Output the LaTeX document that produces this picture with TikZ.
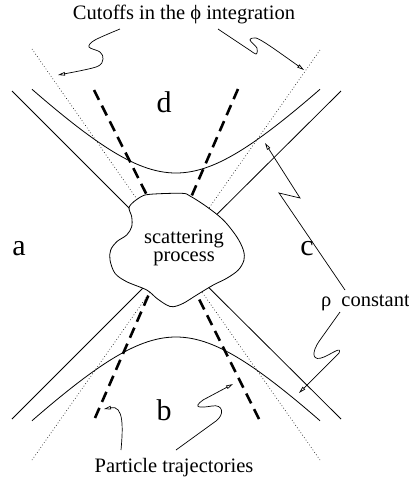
\documentclass[tikz,border=0pt]{standalone}
\usepackage{fontspec}
\setmainfont{Liberation Serif}
\usetikzlibrary{arrows.meta}
\begin{document}
\begin{tikzpicture}[x=1pt,y=-1pt,
  solidline/.style={line width=0.8pt},
  dotline/.style={line width=0.6pt, dash pattern=on 0.7pt off 2.3pt},
  trajline/.style={line width=2.6pt, dash pattern=on 11pt off 6.5pt},
  arr/.style={line width=0.7pt, -{Triangle[open,length=7pt,width=3.6pt]}},
  lbl/.style={font=\fontsize{30}{36}\selectfont, inner sep=0pt},
  txt/.style={font=\fontsize{20.5}{24}\selectfont, inner sep=0pt}]
\useasboundingbox (0,0) rectangle (409,480);
% key points
\coordinate (O) at (176,255);
\coordinate (oTL) at (12,91);   \coordinate (oTR) at (341,91);
\coordinate (oBL) at (12,419);  \coordinate (oBR) at (341,419);
\coordinate (dTL) at (32,49);   \coordinate (dTR) at (320,50);
\coordinate (dBL) at (32,460);  \coordinate (dBR) at (320,460);
\coordinate (pTL) at (94,90);   \coordinate (pBR) at (259,419);
\coordinate (pTR) at (238,89);  \coordinate (pBL) at (95,418);
\coordinate (m1) at (177,255);  \coordinate (m2) at (166,255);
% asymptote lines
\draw[solidline] (oTL) -- (O) -- (oBR);
\draw[solidline] (oTR) -- (O) -- (oBL);
% cutoff lines
\draw[dotline] (dTL) -- (O);
\draw[dotline] (dBR) -- (O);
\draw[dotline] (dTR) -- (O);
\draw[dotline] (dBL) -- (O);
% hyperbolas (rho constant)
\draw[solidline] plot[domain=-144:144, samples=73] ({176+\x},{255-10*sqrt(67.24+(\x/10)^2)});
\draw[solidline] plot[domain=-144:144, samples=73] ({176+\x},{255+10*sqrt(67.24+(\x/10)^2)});
% particle trajectories
\draw[trajline] (pTL) -- (m1);
\draw[trajline] (pBR) -- (m1);
\draw[trajline] (pTR) -- (m2);
\draw[trajline] (pBL) -- (m2);
% scattering blob
\draw[solidline, fill=white] plot[smooth cycle, tension=0.55] coordinates {
  (129.3,206.7) (140,197.3) (150,194.3) (181.7,193.3) (190,196)
  (206.7,206.7) (223.3,220) (236.7,236.7) (243.3,250) (244,260)
  (238.3,270) (226.7,278.3) (213.3,285) (196.7,295) (183.3,303.3)
  (173.3,306.7) (166.7,305) (156.7,298.3) (146.7,290) (126.7,281.7)
  (115,273.3) (110,260) (110.7,250) (116.7,241.7) (126.7,235)
  (131.7,226.7) (131.7,216.7)};
\node[inner sep=0pt, align=center, font=\fontsize{20.5}{17.5}\selectfont, anchor=base] (scat) at (184,261) {scattering\\process};
% region labels
\node[lbl, anchor=base] (la) at (19,255) {a};
\node[lbl, anchor=base] (lc) at (307,255) {c};
\node[lbl, anchor=base] (ld) at (164,112) {d};
\node[lbl, anchor=base] (lb) at (164,420) {b};
% texts
\node[txt, anchor=base] (title) at (184,19) {Cutoffs in the ϕ integration};
\node[txt, anchor=base] (ptraj) at (174,472) {Particle trajectories};
\node[txt, anchor=base west] (rho) at (321,306.5) {ρ\hspace{10pt}constant};
% annotation arrows
\coordinate (cLs) at (120,29);  \coordinate (cLt) at (58,75);
\coordinate (cRs) at (218,29);  \coordinate (cRt) at (304,70);
\coordinate (rUs) at (345,290); \coordinate (rUt) at (265,143);
\coordinate (rDs) at (340,312); \coordinate (rDt) at (299,393);
\coordinate (tLs) at (121,450); \coordinate (tLt) at (104,409);
\coordinate (tRs) at (176,450); \coordinate (tRt) at (233,384);
\draw[arr] plot[smooth, tension=0.55] coordinates {(cLs) (95,40) (89,47) (100,52) (103,59) (96,67) (cLt)};
\draw[arr] plot[smooth, tension=0.5] coordinates {(cRs) (248,49) (256,54) (257,48) (250,40) (256,38) (270,46) (cRt)};
\draw[arr] (rUs) -- (279,193) -- (300,198) -- (rUt);
\draw[arr] (rDs) -- (320,340) .. controls (310,354) and (313,362) .. (324,357) .. controls (333,353) and (342,346) .. (339,353) -- (rDt);
\draw[arr] (tLs) .. controls (123,428) and (124,405) .. (tLt);
\draw[arr] (tRs) -- (216,421) .. controls (225,414) and (223,404) .. (212,406) .. controls (200,408) and (192,408) .. (203,400) -- (tRt);
\end{tikzpicture}
\end{document}
